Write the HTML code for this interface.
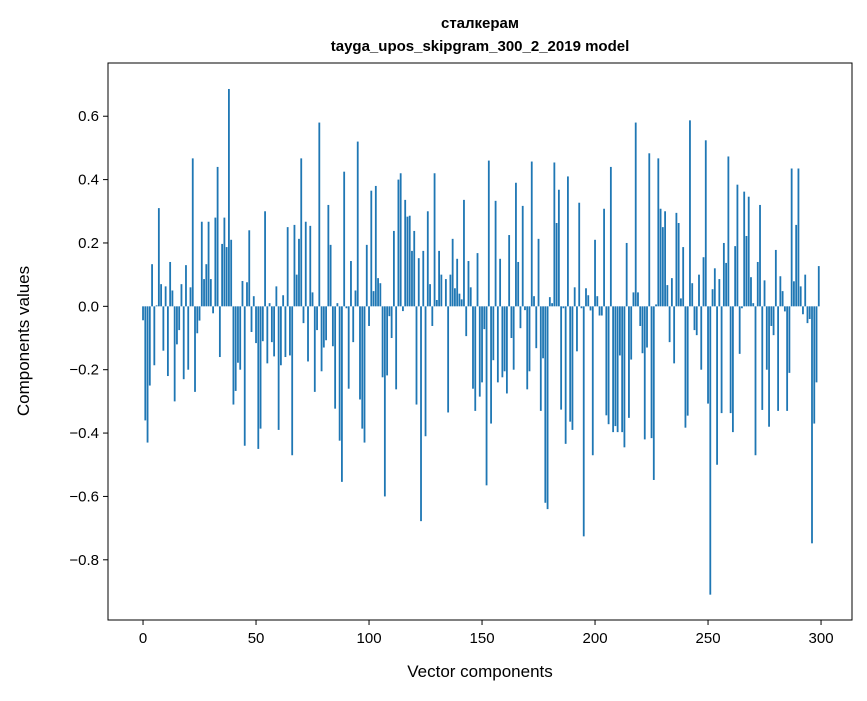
<!DOCTYPE html>
<html><head><meta charset="utf-8"><style>
body{margin:0;background:#fff;}
svg text{font-family:"Liberation Sans","DejaVu Sans",sans-serif;fill:#000;}
</style></head><body>
<svg id="chart" width="867" height="696" viewBox="0 0 867 696" xmlns="http://www.w3.org/2000/svg">
<rect x="0" y="0" width="867" height="696" fill="#fff"/>
<text x="480" y="28" text-anchor="middle" font-size="15" font-weight="bold">сталкерам</text>
<text x="480" y="51" text-anchor="middle" font-size="15" font-weight="bold">tayga_upos_skipgram_300_2_2019 model</text>
<g id="bars"></g>
<g id="axes"></g>
<text x="480" y="677" text-anchor="middle" font-size="17">Vector components</text>
<text transform="translate(29,341) rotate(-90)" text-anchor="middle" font-size="17">Components values</text>
</svg>
<script>
const values = [
-0.044,-0.36,-0.43,-0.25,0.133,-0.186,0.003,0.31,0.07,-0.14,
0.063,-0.22,0.14,0.05,-0.30,-0.12,-0.075,0.07,-0.23,0.13,
-0.2,0.06,0.467,-0.27,-0.085,-0.045,0.267,0.086,0.133,0.267,
0.086,-0.022,0.28,0.44,-0.16,0.197,0.28,0.187,0.686,0.21,
-0.31,-0.267,-0.178,-0.2,0.08,-0.44,0.076,0.24,-0.081,0.032,
-0.116,-0.45,-0.386,-0.11,0.3,-0.18,0.01,-0.113,-0.158,0.063,
-0.39,-0.186,0.035,-0.16,0.25,-0.155,-0.47,0.257,0.1,0.213,
0.467,-0.053,0.267,-0.174,0.254,0.044,-0.27,-0.075,0.58,-0.205,
-0.13,-0.107,0.32,0.194,-0.126,-0.323,0.01,-0.424,-0.554,0.425,
-0.006,-0.26,0.143,-0.113,0.05,0.52,-0.294,-0.386,-0.43,0.194,
-0.062,0.365,0.048,0.38,0.089,0.073,-0.224,-0.6,-0.218,-0.031,
-0.1,0.238,-0.262,0.4,0.42,-0.015,0.336,0.283,0.286,0.175,
0.238,-0.31,0.152,-0.678,0.175,-0.41,0.3,0.07,-0.062,0.42,
0.02,0.175,0.1,0.0,0.086,-0.335,0.1,0.213,0.057,0.15,
0.04,0.022,0.336,-0.094,0.143,0.06,-0.26,-0.33,0.168,-0.285,
-0.24,-0.072,-0.565,0.46,-0.37,-0.17,0.333,-0.24,0.15,-0.224,
-0.205,-0.275,0.225,-0.1,-0.2,0.39,0.14,-0.069,0.317,-0.012,
-0.262,-0.205,0.457,0.032,-0.132,0.213,-0.33,-0.164,-0.62,-0.64,
0.029,0.01,0.454,0.263,0.368,-0.326,-0.006,-0.434,0.41,-0.364,
-0.39,0.06,-0.142,0.327,-0.006,-0.726,0.057,0.035,-0.013,-0.47,
0.21,0.032,-0.029,-0.029,0.308,-0.344,-0.372,0.44,-0.397,-0.378,
-0.397,-0.155,-0.397,-0.445,0.2,-0.352,-0.168,0.044,0.58,0.044,
-0.062,-0.148,-0.42,-0.13,0.483,-0.416,-0.548,0.006,0.467,0.308,
0.25,0.3,0.067,-0.113,0.089,-0.18,0.295,0.263,0.025,0.187,
-0.383,-0.345,0.587,0.073,-0.075,-0.091,0.1,-0.2,0.155,0.524,
-0.307,-0.91,0.054,0.12,-0.5,0.086,-0.337,0.2,0.137,0.473,
-0.337,-0.397,0.19,0.384,-0.15,-0.006,0.362,0.222,0.346,0.092,
0.01,-0.47,0.14,0.32,-0.327,0.082,-0.2,-0.38,-0.062,-0.091,
0.178,-0.33,0.095,0.048,-0.016,-0.33,-0.21,0.435,0.079,0.257,
0.435,0.063,-0.025,0.1,-0.053,-0.04,-0.748,-0.37,-0.24,0.127
];
const xTicks = [0,50,100,150,200,250,300];
const yTicks = [-0.8,-0.6,-0.4,-0.2,0.0,0.2,0.4,0.6];
const yTickLabels = ["\u22120.8","\u22120.6","\u22120.4","\u22120.2","0.0","0.2","0.4","0.6"];

const L=108,R=852,T=63,B=620;
const xMin=-15.5, xMax=313.7, yMin=-0.99, yMax=0.768;
const xs=v=>L+(v-xMin)/(xMax-xMin)*(R-L);
const ys=v=>T+(yMax-v)/(yMax-yMin)*(B-T);
const NS="http://www.w3.org/2000/svg";
const bars=document.getElementById('bars');
values.forEach((v,i)=>{
  const r=document.createElementNS(NS,'rect');
  const x0=xs(i-0.4), x1=xs(i+0.4);
  const y0=ys(Math.max(v,0)), y1=ys(Math.min(v,0));
  r.setAttribute('x',x0);r.setAttribute('width',x1-x0);
  r.setAttribute('y',y0);r.setAttribute('height',Math.max(y1-y0,0));
  r.setAttribute('fill','#1f77b4');
  
  
  bars.appendChild(r);
});
const ax=document.getElementById('axes');
const fr=document.createElementNS(NS,'rect');
fr.setAttribute('x',L);fr.setAttribute('y',T);fr.setAttribute('width',R-L);fr.setAttribute('height',B-T);
fr.setAttribute('fill','none');fr.setAttribute('stroke','#000');fr.setAttribute('stroke-width','1');


ax.appendChild(fr);
xTicks.forEach(t=>{
  const x=xs(t);
  const l=document.createElementNS(NS,'line');
  l.setAttribute('x1',x);l.setAttribute('x2',x);l.setAttribute('y1',B);l.setAttribute('y2',B+5);
  l.setAttribute('stroke','#000');
  
  
  ax.appendChild(l);
  const tx=document.createElementNS(NS,'text');
  tx.setAttribute('x',x);tx.setAttribute('y',B+23);tx.setAttribute('text-anchor','middle');tx.setAttribute('font-size','15');
  tx.textContent=String(t);
  
  
  ax.appendChild(tx);
});
yTicks.forEach((t,i)=>{
  const y=ys(t);
  const l=document.createElementNS(NS,'line');
  l.setAttribute('x1',L-5);l.setAttribute('x2',L);l.setAttribute('y1',y);l.setAttribute('y2',y);
  l.setAttribute('stroke','#000');
  
  
  ax.appendChild(l);
  const tx=document.createElementNS(NS,'text');
  tx.setAttribute('x',L-9);tx.setAttribute('y',y+5);tx.setAttribute('text-anchor','end');tx.setAttribute('font-size','15');
  tx.textContent=yTickLabels[i];
  
  
  ax.appendChild(tx);
});
</script>
</body></html>
